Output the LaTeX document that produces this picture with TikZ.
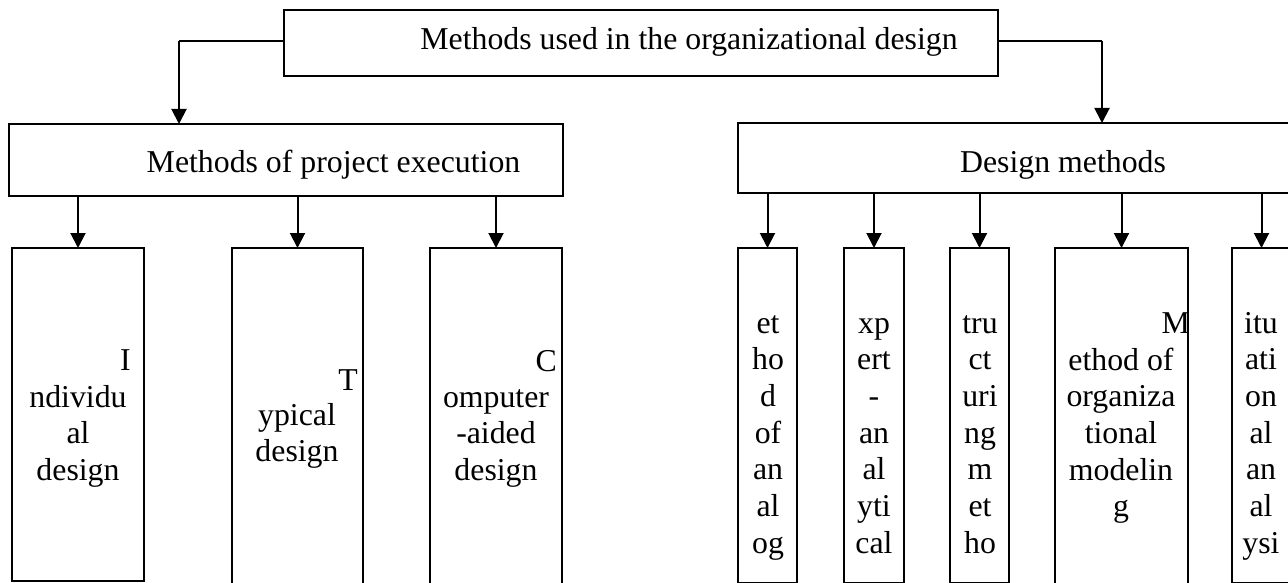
\documentclass[tikz,border=0pt]{standalone}
\usepackage{fontspec}
\setmainfont{Liberation Serif}
\usetikzlibrary{arrows.meta}
\newcommand{\stack}[1]{\begin{tabular}[t]{@{}c@{}}#1\end{tabular}}
\begin{document}
\begin{tikzpicture}[x=1pt,y=-1pt,
  box/.style={draw, line width=1.3pt, inner sep=0pt, outer sep=0pt},
  conn/.style={line width=1.3pt},
  arr/.style={line width=2pt, -{Triangle[width=15pt,length=15pt]}},
  lbl/.style={font=\fontsize{31.8}{36.7}\selectfont, inner sep=0pt, anchor=base},
  initial/.style={lbl, anchor=base east},
]
\useasboundingbox (0,0) rectangle (1288,583);
\clip (0,0) rectangle (1288,583);

% top level
\node[box, minimum width=714pt, minimum height=66pt] (top) at (641,43) {};
\node[lbl] (topt) at (689,50) {Methods used in the organizational design};

% second level
\node[box, minimum width=554pt, minimum height=72pt] (exec) at (286,160) {};
\node[lbl] (exect) at (333.5,172) {Methods of project execution};
\node[box, minimum width=562pt, minimum height=70pt] (design) at (1019,158) {};
\node[lbl] (designt) at (1063,172) {Design methods};

% methods of project execution
\node[box, minimum width=132pt, minimum height=333pt] (b1) at (78,414.5) {};
\node[box, minimum width=131pt, minimum height=372pt] (b2) at (297.5,434) {};
\node[box, minimum width=132pt, minimum height=372pt] (b3) at (496,434) {};

\node[initial] (b1c) at (131,370) {I};
\node[lbl] (b1t) at (78,407) {\stack{ndividu\\al\\design}};
\node[initial] (b2c) at (358,390) {T};
\node[lbl] (b2t) at (297,425) {\stack{ypical\\design}};
\node[initial] (b3c) at (557,371) {C};
\node[lbl] (b3t) at (496,407) {\stack{omputer\\-aided\\design}};

% design methods
\node[box, minimum width=59pt, minimum height=334.6pt] (d1) at (767.5,415.3) {};
\node[box, minimum width=60pt, minimum height=334.6pt] (d2) at (874,415.3) {};
\node[box, minimum width=59pt, minimum height=334.6pt] (d3) at (979.5,415.3) {};
\node[box, minimum width=133pt, minimum height=372pt] (d4) at (1121.5,434) {};
\node[box, minimum width=59pt, minimum height=334.6pt] (d5) at (1261.5,415.3) {};

\node[lbl] (d1t) at (768,333) {\stack{et\\ho\\d\\of\\an\\al\\og}};
\node[lbl] (d2t) at (874,333) {\stack{xp\\ert\\-\\an\\al\\yti\\cal}};
\node[lbl] (d3t) at (980,333) {\stack{tru\\ct\\uri\\ng\\m\\et\\ho}};
\node[initial] (d4c) at (1190,333) {M};
\node[lbl] (d4t) at (1121,370) {\stack{ethod of\\organiza\\tional\\modelin\\g}};
\node[lbl] (d5t) at (1261,333) {\stack{itu\\ati\\on\\al\\an\\al\\ysi}};

% connectors from the top box
\coordinate (jL) at (179,41);
\coordinate (jR) at (1102,41);
\draw[conn] (jL -| top.west) -- (jL);
\draw[arr] (jL) -- (jL |- exec.north);
\draw[conn] (jR -| top.east) -- (jR);
\draw[arr] (jR) -- (jR |- design.north);

% connectors to the method boxes
\foreach \b in {b1,b2,b3}
  \draw[arr] (exec.south -| \b.north) -- (\b.north);
\foreach \b in {d1,d2,d3,d4,d5}
  \draw[arr] (design.south -| \b.north) -- (\b.north);
\end{tikzpicture}
\end{document}
